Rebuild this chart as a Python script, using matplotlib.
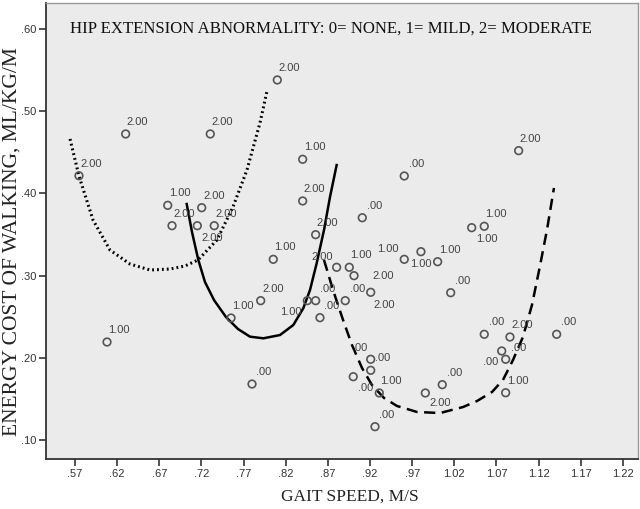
import matplotlib
matplotlib.use("Agg")
import matplotlib.pyplot as plt
import numpy as np

# ---- data ----
gait_speed = [0.5747, 0.6301, 0.7305, 0.8100, 0.6800, 0.7203, 0.6851, 0.7151, 0.7352,
              0.6080, 0.7551, 0.7903, 0.7800, 0.8401, 0.8401, 0.8555, 0.8052, 0.9606,
              0.9108, 1.0963, 1.0406, 1.0555, 0.9606, 0.9804, 1.0002, 0.8804, 0.8954,
              0.9010, 0.9208, 1.0157, 0.8456, 0.8555, 0.8906, 0.8606, 0.9208, 0.9001,
              0.9208, 0.9310, 0.9259, 0.9856, 1.0057, 1.0555, 1.0860, 1.1414, 1.0762,
              1.0809, 1.0809]
energy_cost = [0.4215, 0.4723, 0.4723, 0.5380, 0.3855, 0.3826, 0.3607, 0.3607, 0.3607,
               0.2192, 0.2484, 0.2695, 0.1681, 0.4415, 0.3908, 0.3498, 0.3198, 0.4212,
               0.3704, 0.4520, 0.3583, 0.3600, 0.3198, 0.3291, 0.3169, 0.3101, 0.3101,
               0.2999, 0.2797, 0.2792, 0.2695, 0.2695, 0.2695, 0.2488, 0.1982, 0.1770,
               0.1848, 0.1572, 0.1162, 0.1572, 0.1673, 0.2286, 0.2253, 0.2286, 0.2083,
               0.1982, 0.1575]
hip_abnormality = [2, 2, 2, 2, 1, 2, 2, 2, 2,
                   1, 1, 2, 0, 1, 2, 2, 1, 0,
                   0, 2, 1, 1, 1, 1, 1, 2, 1,
                   2, 2, 0, 1, 0, 0, 0, 0, 0,
                   0, 1, 0, 2, 0, 0, 2, 0, 0,
                   0, 1]

# illustrative curves
moderate_x = [0.5641, 0.5747, 0.5914, 0.6115, 0.6352, 0.6590, 0.6827, 0.7005, 0.7159,
              0.7384, 0.7574, 0.7740, 0.7894, 0.7978]
moderate_y = [0.4662, 0.4212, 0.3676, 0.3311, 0.3141, 0.3068, 0.3080, 0.3117, 0.3190,
              0.3433, 0.3835, 0.4285, 0.4856, 0.5246]
mild_x = [0.7025, 0.7088, 0.7163, 0.7242, 0.7349, 0.7491, 0.7634, 0.7776, 0.7934,
          0.8132, 0.8290, 0.8408, 0.8488, 0.8567, 0.8654, 0.8725, 0.8804]
mild_y = [0.3871, 0.3530, 0.3190, 0.2922, 0.2703, 0.2496, 0.2350, 0.2257, 0.2237,
          0.2277, 0.2399, 0.2602, 0.2825, 0.3150, 0.3555, 0.3956, 0.4345]
none_x = [0.8654, 0.8761, 0.8880, 0.8986, 0.9105, 0.9223, 0.9366, 0.9520, 0.9757,
          1.0030, 1.0303, 1.0469, 1.0647, 1.0777, 1.0896, 1.1014, 1.1121, 1.1216,
          1.1299, 1.1382]
none_y = [0.3190, 0.2825, 0.2460, 0.2156, 0.1876, 0.1669, 0.1511, 0.1414, 0.1341,
          0.1328, 0.1401, 0.1474, 0.1584, 0.1730, 0.1973, 0.2253, 0.2642, 0.3117,
          0.3555, 0.4066]

x_ticks = [0.57, 0.62, 0.67, 0.72, 0.77, 0.82, 0.87, 0.92, 0.97, 1.02, 1.07, 1.12, 1.17, 1.22]
y_ticks = [0.10, 0.20, 0.30, 0.40, 0.50, 0.60]

title_text = "HIP EXTENSION ABNORMALITY: 0= NONE, 1= MILD, 2= MODERATE"
x_label = "GAIT SPEED, M/S"
y_label = "ENERGY COST OF WALKING, ML/KG/M"


def fmt(v):
    s = f"{v:.2f}"
    return s[1:] if s.startswith("0") else s


# label placement (offset pixels), default up-right
default_off = (12, 12)
label_off = {7: (15, -12), 20: (15, -11), 22: (-16, 10), 23: (0, -12), 25: (-14, 10),
             27: (29, 0), 28: (13, -13), 30: (-16, -11), 34: (-11, 11), 35: (12, -11),
             39: (15, -10), 44: (17, 3), 45: (-15, -3)}

W, H = 640, 509
fig = plt.figure(figsize=(6.4, 5.09), dpi=100)
fig.patch.set_facecolor("white")
L, R, T, B = 46, 638, 3, 459
ax = fig.add_axes([L / W, 1 - B / H, (R - L) / W, (B - T) / H])
ax.set_facecolor("#ebebeb")

ax.plot(moderate_x, moderate_y, color="black", lw=2.2, linestyle=(0, (0.6, 1.0)),
        dash_capstyle="butt", zorder=2)
ax.plot(mild_x, mild_y, color="black", lw=1.8, linestyle="-", zorder=2)
ax.plot(none_x, none_y, color="black", lw=1.8, linestyle=(0, (4.5, 2.6)), zorder=2)

ax.scatter(gait_speed, energy_cost, s=30, facecolors="none", edgecolors="#555555",
           linewidths=1.2, zorder=3)

for i, (x, y, g) in enumerate(zip(gait_speed, energy_cost, hip_abnormality)):
    off = label_off.get(i, default_off)
    ax.annotate(fmt(float(g)), (x, y), xytext=off, textcoords="offset pixels",
                ha="center", va="center", fontsize=8, color="#444444",
                family="Liberation Sans", zorder=4)

ax.set_xlim(0.5356, 1.2379)
ax.set_ylim(0.60 - (B - 29) / 822, 0.60 + (29 - T) / 822)
ax.set_xticks(x_ticks)
ax.set_xticklabels([fmt(v) for v in x_ticks])
ax.set_yticks(y_ticks)
ax.set_yticklabels([fmt(v) for v in y_ticks])
ax.tick_params(axis="both", direction="out", length=5, width=1.2, color="#333333",
               labelsize=8, labelcolor="#333333", pad=2)
for lab in ax.get_xticklabels() + ax.get_yticklabels():
    lab.set_family("Liberation Sans")

for side in ["left", "bottom"]:
    ax.spines[side].set_color("#333333")
    ax.spines[side].set_linewidth(1.3)
for side in ["top", "right"]:
    ax.spines[side].set_color("#999999")
    ax.spines[side].set_linewidth(1.0)

ax.text((70 - L) / (R - L), 1 - (29 - T) / (B - T), title_text, transform=ax.transAxes,
        ha="left", va="center", fontsize=12.1, family="Liberation Serif", color="#111111")

fig.text(350 / W, 1 - 497 / H, x_label, ha="center", va="center", fontsize=12.5,
         family="Liberation Serif", color="#222222")
fig.text(12 / W, 1 - 242 / H, y_label, ha="center", va="center", rotation=90,
         fontsize=15.5, family="Liberation Serif", color="#222222")

fig.savefig("out.png", dpi=100, facecolor="white")
